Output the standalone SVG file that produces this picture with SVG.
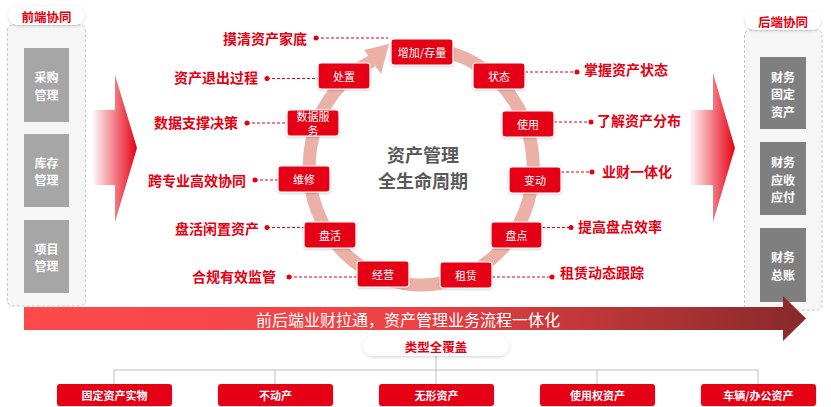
<svg xmlns="http://www.w3.org/2000/svg" width="831" height="407" viewBox="0 0 831 407">
<defs>
<style>
text{font-family:"Noto Sans CJK SC","Liberation Sans",sans-serif;dominant-baseline:central}
.lbl{font-size:14px;font-weight:bold;fill:#e60012}
.cb{fill:#e60012;stroke:#fff;stroke-width:1.2;filter:url(#sh)}
.ct{font-size:11px;fill:#fff;text-anchor:middle}
.gb{fill:#a6a6a6}
.gb2{fill:#7f7f7f}
.gt{font-size:12px;font-weight:bold;fill:#fff;text-anchor:middle}
.panel{fill:#f6f6f6;stroke:#c9c9c9;stroke-width:1;stroke-dasharray:3 2}
.pill{fill:#fff;filter:url(#sh2)}
.pt{font-size:12.5px;font-weight:bold;fill:#e60012;text-anchor:middle}
.lead{stroke:#e60012;stroke-width:1;stroke-dasharray:3 2;fill:none}
.dot{fill:#e60012}
.tree{stroke:#bfbfbf;stroke-width:1;fill:none}
.bb{fill:#e60012;filter:url(#sh)}
.bt{font-size:11px;font-weight:bold;fill:#fff;text-anchor:middle}
</style>
<filter id="sh" x="-20%" y="-30%" width="140%" height="160%"><feDropShadow dx="0" dy="1" stdDeviation="1" flood-color="#000" flood-opacity="0.2"/></filter>
<filter id="sh2" x="-20%" y="-40%" width="140%" height="180%"><feDropShadow dx="0" dy="1" stdDeviation="1.5" flood-color="#000" flood-opacity="0.18"/></filter>
<linearGradient id="lg1" gradientUnits="userSpaceOnUse" x1="93" y1="0" x2="137" y2="0"><stop offset="0" stop-color="#e60012" stop-opacity="0.03"/><stop offset="1" stop-color="#e60012"/></linearGradient>
<linearGradient id="lg2" gradientUnits="userSpaceOnUse" x1="690" y1="0" x2="735" y2="0"><stop offset="0" stop-color="#e60012" stop-opacity="0.03"/><stop offset="1" stop-color="#e60012"/></linearGradient>
<linearGradient id="band" gradientUnits="userSpaceOnUse" x1="24" y1="0" x2="806" y2="0"><stop offset="0" stop-color="#ff4a4d"/><stop offset="0.5" stop-color="#ec4245"/><stop offset="1" stop-color="#88292a"/></linearGradient>
</defs>
<rect width="831" height="407" fill="#fff"/>

<g id="front-panel">
<rect class="panel" x="7.5" y="25" width="78" height="281" rx="5"/>
<rect class="pill" x="8.5" y="6" width="76" height="19" rx="9.5"/>
<text class="pt" x="46.5" y="16">前端协同</text>
</g>
<g id="caigou"><rect class="gb" x="24" y="48" width="45" height="74"/><text class="gt" x="46.5" y="76.25"><tspan x="46.5">采购</tspan><tspan x="46.5" dy="17.5">管理</tspan></text></g>
<g id="kucun"><rect class="gb" x="24" y="134" width="45" height="73"/><text class="gt" x="46.5" y="161.75"><tspan x="46.5">库存</tspan><tspan x="46.5" dy="17.5">管理</tspan></text></g>
<g id="xiangmu"><rect class="gb" x="24" y="220" width="45" height="73"/><text class="gt" x="46.5" y="247.75"><tspan x="46.5">项目</tspan><tspan x="46.5" dy="17.5">管理</tspan></text></g>

<g id="back-panel">
<rect class="panel" x="744.5" y="30" width="77.5" height="280" rx="5"/>
<rect class="pill" x="745" y="11.5" width="76" height="18.5" rx="9.25"/>
<text class="pt" x="783" y="21">后端协同</text>
</g>
<g id="gudingzichan"><rect class="gb2" x="760" y="57" width="46" height="72"/><text class="gt" x="783" y="75.5"><tspan x="783">财务</tspan><tspan x="783" dy="17.5">固定</tspan><tspan x="783" dy="17.5">资产</tspan></text></g>
<g id="yingshou"><rect class="gb2" x="760" y="142" width="46" height="73"/><text class="gt" x="783" y="161"><tspan x="783">财务</tspan><tspan x="783" dy="17.5">应收</tspan><tspan x="783" dy="17.5">应付</tspan></text></g>
<g id="zongzhang"><rect class="gb2" x="760" y="228" width="46" height="74"/><text class="gt" x="783" y="256.25"><tspan x="783">财务</tspan><tspan x="783" dy="17.5">总账</tspan></text></g>

<g id="big-arrows">
<polygon points="93,110 115,110 115,75 137,148 115,222 115,185 93,185" fill="url(#lg1)"/>
<polygon points="690,110 713,110 713,73 735,148 713,222 713,185 690,185" fill="url(#lg2)"/>
</g>

<g id="ring">
<path d="M 426.6 49.1 A 112 118 0 1 1 372.3 60.8" fill="none" stroke="#ebb1a7" stroke-width="13"/>
<polygon points="364,50 389,44 381,74" fill="#ebb1a7"/>
</g>

<g id="center-title">
<text x="423" y="153.5" font-size="18" font-weight="bold" fill="#595959" text-anchor="middle"><tspan x="423">资产管理</tspan><tspan x="423" dy="26.2">全生命周期</tspan></text>
</g>

<g id="connectors">
<path class="lead" d="M316 38H388"/><circle class="dot" cx="316" cy="38" r="2.5"/>
<path class="lead" d="M267 78.5H318"/><circle class="dot" cx="267" cy="78.5" r="2.5"/>
<path class="lead" d="M247 123H287"/><circle class="dot" cx="247" cy="123" r="2.5"/>
<path class="lead" d="M255 180H278"/><circle class="dot" cx="255" cy="180" r="2.5"/>
<path class="lead" d="M267 227.5H304"/><circle class="dot" cx="267" cy="227.5" r="2.5"/>
<path class="lead" d="M289 277H357"/><circle class="dot" cx="289" cy="277" r="2.5"/>
<path class="lead" d="M525 72H577"/><circle class="dot" cx="577" cy="72" r="2.5"/>
<path class="lead" d="M554 122H591"/><circle class="dot" cx="591" cy="122" r="2.5"/>
<path class="lead" d="M561 172H592"/><circle class="dot" cx="592" cy="172" r="2.5"/>
<path class="lead" d="M542 227.5H571"/><circle class="dot" cx="571" cy="227.5" r="2.5"/>
<path class="lead" d="M492 277H552"/><circle class="dot" cx="552" cy="277" r="2.5"/>
<path class="tree" d="M436 356V370M114 370H758M114 370V384M275 370V384M436 370V384M597 370V384M758 370V384"/>
</g>

<g id="labels">
<text class="lbl" x="307" y="38" text-anchor="end">摸清资产家底</text>
<text class="lbl" x="258" y="77" text-anchor="end">资产退出过程</text>
<text class="lbl" x="238" y="122" text-anchor="end">数据支撑决策</text>
<text class="lbl" x="246" y="180" text-anchor="end">跨专业高效协同</text>
<text class="lbl" x="259" y="228" text-anchor="end">盘活闲置资产</text>
<text class="lbl" x="276" y="276" text-anchor="end">合规有效监管</text>
<text class="lbl" x="584" y="69">掌握资产状态</text>
<text class="lbl" x="597" y="120">了解资产分布</text>
<text class="lbl" x="602" y="171">业财一体化</text>
<text class="lbl" x="578" y="226">提高盘点效率</text>
<text class="lbl" x="560" y="272">租赁动态跟踪</text>
</g>

<g id="n-zengjia"><rect class="cb" x="391" y="39" width="62" height="26" rx="3"/><text class="ct" x="422" y="52">增加/存量</text></g>
<g id="n-zhuangtai"><rect class="cb" x="473" y="63" width="52" height="26" rx="3"/><text class="ct" x="499" y="76">状态</text></g>
<g id="n-shiyong"><rect class="cb" x="502" y="111" width="52" height="26" rx="3"/><text class="ct" x="528" y="124">使用</text></g>
<g id="n-biandong"><rect class="cb" x="509" y="167" width="52" height="26" rx="3"/><text class="ct" x="535" y="180">变动</text></g>
<g id="n-pandian"><rect class="cb" x="491" y="222" width="51" height="26" rx="3"/><text class="ct" x="516.5" y="235">盘点</text></g>
<g id="n-zulin"><rect class="cb" x="440" y="262" width="52" height="26" rx="3"/><text class="ct" x="466" y="275">租赁</text></g>
<g id="n-jingying"><rect class="cb" x="357" y="261" width="52" height="26" rx="3"/><text class="ct" x="383" y="274">经营</text></g>
<g id="n-panhuo"><rect class="cb" x="304" y="222" width="52" height="26" rx="3"/><text class="ct" x="330" y="235">盘活</text></g>
<g id="n-weixiu"><rect class="cb" x="278" y="166" width="52" height="26" rx="3"/><text class="ct" x="304" y="179">维修</text></g>
<g id="n-shujufuwu"><rect class="cb" x="287" y="110" width="52" height="26" rx="3"/><text class="ct" x="313" y="115.7" font-size="10"><tspan x="313">数据服</tspan><tspan x="313" dy="14.6">务</tspan></text></g>
<g id="n-chuzhi"><rect class="cb" x="318" y="63" width="52" height="26" rx="3"/><text class="ct" x="344" y="76">处置</text></g>

<g id="band-arrow">
<polygon points="24,307 783,307 783,296 806,318.5 783,341 783,330 24,330" fill="url(#band)"/>
<text x="256" y="318.5" font-size="16" fill="#fff">前后端业财拉通，资产管理业务流程一体化</text>
</g>

<g id="type-pill">
<rect class="pill" x="363" y="335.5" width="146" height="20.5" rx="10.25"/>
<text x="436" y="346" font-size="12.5" font-weight="bold" fill="#e60012" text-anchor="middle">类型全覆盖</text>
</g>
<g id="t-guding"><rect class="bb" x="57" y="384" width="115" height="22" rx="3"/><text class="bt" x="114.5" y="395">固定资产实物</text></g>
<g id="t-budongchan"><rect class="bb" x="218" y="384" width="115" height="22" rx="3"/><text class="bt" x="275.5" y="395">不动产</text></g>
<g id="t-wuxing"><rect class="bb" x="379" y="384" width="115" height="22" rx="3"/><text class="bt" x="436.5" y="395">无形资产</text></g>
<g id="t-shiyongquan"><rect class="bb" x="540" y="384" width="115" height="22" rx="3"/><text class="bt" x="597.5" y="395">使用权资产</text></g>
<g id="t-cheliang"><rect class="bb" x="701" y="384" width="115" height="22" rx="3"/><text class="bt" x="758.5" y="395">车辆/办公资产</text></g>
</svg>
